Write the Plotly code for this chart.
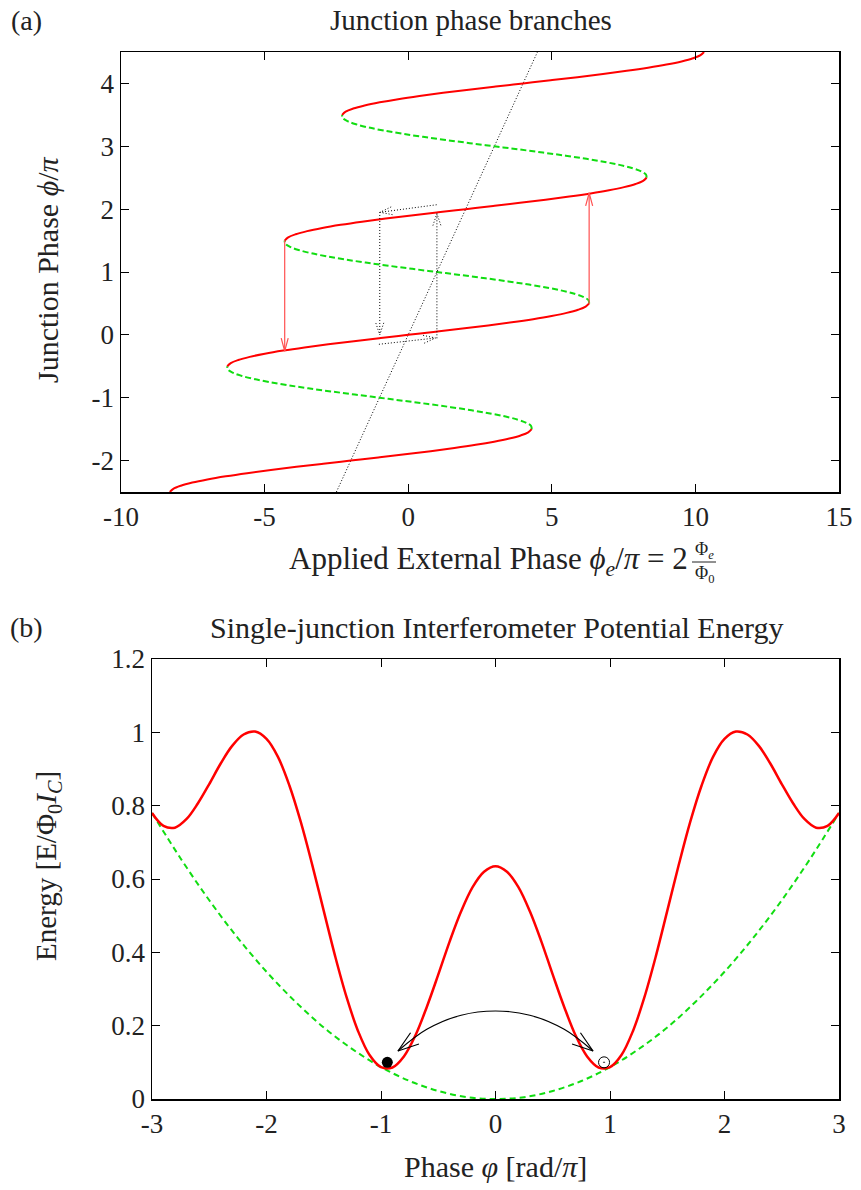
import math
import plotly.graph_objects as go

W, H = 861, 1190          # browser window = figure size (body margin removed below)
FONT = "Liberation Serif"

# ---------------- Panel (a): junction phase branches ----------------
# x = applied external phase (units of pi), y = junction phase (units of pi)
y_r1 = [-2.50, -2.45, -2.40, -2.35, -2.30, -2.25, -2.20, -2.15, -2.10, -2.05, -2.00,
        -1.95, -1.90, -1.85, -1.80, -1.75, -1.70, -1.65, -1.60, -1.55, -1.50]
x_r1 = [-8.300, -8.179, -7.916, -7.518, -6.992, -6.351, -5.609, -4.783, -3.892, -2.957, -2.000,
        -1.043, -0.108, 0.783, 1.609, 2.351, 2.992, 3.518, 3.916, 4.179, 4.300]
y_g1 = [-1.50, -1.45, -1.40, -1.35, -1.30, -1.25, -1.20, -1.15, -1.10, -1.05, -1.00,
        -0.95, -0.90, -0.85, -0.80, -0.75, -0.70, -0.65, -0.60, -0.55, -0.50]
x_g1 = [4.300, 4.279, 4.116, 3.818, 3.392, 2.851, 2.209, 1.483, 0.692, -0.143, -1.000,
        -1.857, -2.692, -3.483, -4.209, -4.851, -5.392, -5.818, -6.116, -6.279, -6.300]
y_r2 = [-0.50, -0.45, -0.40, -0.35, -0.30, -0.25, -0.20, -0.15, -0.10, -0.05, 0.00,
        0.05, 0.10, 0.15, 0.20, 0.25, 0.30, 0.35, 0.40, 0.45, 0.50]
x_r2 = [-6.300, -6.179, -5.916, -5.518, -4.992, -4.351, -3.609, -2.783, -1.892, -0.957, 0.000,
        0.957, 1.892, 2.783, 3.609, 4.351, 4.992, 5.518, 5.916, 6.179, 6.300]
y_g2 = [0.50, 0.55, 0.60, 0.65, 0.70, 0.75, 0.80, 0.85, 0.90, 0.95, 1.00,
        1.05, 1.10, 1.15, 1.20, 1.25, 1.30, 1.35, 1.40, 1.45, 1.50]
x_g2 = [6.300, 6.279, 6.116, 5.818, 5.392, 4.851, 4.209, 3.483, 2.692, 1.857, 1.000,
        0.143, -0.692, -1.483, -2.209, -2.851, -3.392, -3.818, -4.116, -4.279, -4.300]
y_r3 = [1.50, 1.55, 1.60, 1.65, 1.70, 1.75, 1.80, 1.85, 1.90, 1.95, 2.00,
        2.05, 2.10, 2.15, 2.20, 2.25, 2.30, 2.35, 2.40, 2.45, 2.50]
x_r3 = [-4.300, -4.179, -3.916, -3.518, -2.992, -2.351, -1.609, -0.783, 0.108, 1.043, 2.000,
        2.957, 3.892, 4.783, 5.609, 6.351, 6.992, 7.518, 7.916, 8.179, 8.300]
y_g3 = [2.50, 2.55, 2.60, 2.65, 2.70, 2.75, 2.80, 2.85, 2.90, 2.95, 3.00,
        3.05, 3.10, 3.15, 3.20, 3.25, 3.30, 3.35, 3.40, 3.45, 3.50]
x_g3 = [8.300, 8.279, 8.116, 7.818, 7.392, 6.851, 6.209, 5.483, 4.692, 3.857, 3.000,
        2.143, 1.308, 0.517, -0.209, -0.851, -1.392, -1.818, -2.116, -2.279, -2.300]
y_r4 = [3.50, 3.55, 3.60, 3.65, 3.70, 3.75, 3.80, 3.85, 3.90, 3.95, 4.00,
        4.05, 4.10, 4.15, 4.20, 4.25, 4.30, 4.35, 4.40, 4.45, 4.50]
x_r4 = [-2.300, -2.179, -1.916, -1.518, -0.992, -0.351, 0.391, 1.217, 2.108, 3.043, 4.000,
        4.957, 5.892, 6.783, 7.609, 8.351, 8.992, 9.518, 9.916, 10.179, 10.300]

# diagonal (beta = 0) reference line
diag_x = [-2.5, 4.5]
diag_y = [-2.5, 4.5]

# jump arrows (red) and small-beta hysteresis loop arrows (dotted)
jump_arrows = [(-4.3, 1.5, -4.3, -0.26), (6.3, 0.5, 6.3, 2.26)]
loop_arrows = [(0.99, 2.07, -0.98, 1.95), (-0.99, 1.955, -0.99, 0.0),
               (-1.02, -0.15, 0.95, -0.05), (1.0, -0.055, 1.0, 1.93)]

a_xticks = [-10, -5, 0, 5, 10, 15]
a_yticks = [-2, -1, 0, 1, 2, 3, 4]

# ---------------- Panel (b): potential energy ----------------
phase_b = [-3.0, -2.9, -2.8, -2.7, -2.6, -2.5, -2.4, -2.3, -2.2, -2.1, -2.0,
           -1.9, -1.8, -1.7, -1.6, -1.5, -1.4, -1.3, -1.2, -1.1, -1.0,
           -0.9, -0.8, -0.7, -0.6, -0.5, -0.4, -0.3, -0.2, -0.1, 0.0,
           0.1, 0.2, 0.3, 0.4, 0.5, 0.6, 0.7, 0.8, 0.9, 1.0,
           1.1, 1.2, 1.3, 1.4, 1.5, 1.6, 1.7, 1.8, 1.9, 2.0,
           2.1, 2.2, 2.3, 2.4, 2.5, 2.6, 2.7, 2.8, 2.9, 3.0]
energy_total = [0.780, 0.745, 0.740, 0.763, 0.806, 0.859, 0.915, 0.963, 0.994, 1.002, 0.982,
                0.933, 0.855, 0.755, 0.638, 0.513, 0.389, 0.277, 0.185, 0.120, 0.087,
                0.086, 0.116, 0.173, 0.251, 0.339, 0.430, 0.512, 0.578, 0.620, 0.635,
                0.620, 0.578, 0.512, 0.430, 0.339, 0.251, 0.173, 0.116, 0.086, 0.087,
                0.120, 0.185, 0.277, 0.389, 0.513, 0.638, 0.755, 0.855, 0.933, 0.982,
                1.002, 0.994, 0.963, 0.915, 0.859, 0.806, 0.763, 0.740, 0.745, 0.780]
phase_par = [-3.0, -2.75, -2.5, -2.25, -2.0, -1.75, -1.5, -1.25, -1.0, -0.75, -0.5, -0.25, 0.0,
             0.25, 0.5, 0.75, 1.0, 1.25, 1.5, 1.75, 2.0, 2.25, 2.5, 2.75, 3.0]
energy_par = [0.780, 0.656, 0.542, 0.439, 0.347, 0.266, 0.195, 0.136, 0.087, 0.049, 0.022, 0.005, 0.0,
              0.005, 0.022, 0.049, 0.087, 0.136, 0.195, 0.266, 0.347, 0.439, 0.542, 0.656, 0.780]

# tunnelling arc between the two wells
arc_x = [-0.852, -0.6, -0.3, 0.0, 0.3, 0.6, 0.852]
arc_y = [0.131, 0.190, 0.2285, 0.240, 0.2285, 0.190, 0.131]

state_filled = (-0.945, 0.100)
state_empty = (0.948, 0.100)

b_xticks = [-3, -2, -1, 0, 1, 2, 3]
b_yticks = [0, 0.2, 0.4, 0.6, 0.8, 1.0, 1.2]
b_yticktext = ["0", "0.2", "0.4", "0.6", "0.8", "1", "1.2"]

# ---------------- layout geometry (screen pixels) ----------------
A_L, A_R, A_T, A_B = 121, 839, 52, 492
B_L, B_R, B_T, B_B = 152, 839, 659, 1099
A_XR, A_YR = (-10, 15), (-2.5, 4.5)
B_XR, B_YR = (-3, 3), (0, 1.2)

RED = "#ff0000"
GREEN = "#11dd11"
TXT = "#222222"


def head(x0, y0, x1, y1, sx, sy, L, Wd):
    dx, dy = (x1 - x0) * sx, (y1 - y0) * sy
    n = math.hypot(dx, dy)
    ux, uy = dx / n, dy / n
    px, py = -uy, ux
    hx = [x1 + (-L * ux + Wd * px) / sx, x1, x1 + (-L * ux - Wd * px) / sx]
    hy = [y1 + (-L * uy + Wd * py) / sy, y1, y1 + (-L * uy - Wd * py) / sy]
    return hx, hy


fig = go.Figure()

asx = (A_R - A_L) / (A_XR[1] - A_XR[0])
asy = (A_B - A_T) / (A_YR[1] - A_YR[0])
bsx = (B_R - B_L) / (B_XR[1] - B_XR[0])
bsy = (B_B - B_T) / (B_YR[1] - B_YR[0])

# diagonal dotted line
fig.add_trace(go.Scatter(x=diag_x, y=diag_y, mode="lines",
                         line=dict(color="black", width=1, dash="1px,2px"),
                         xaxis="x", yaxis="y"))

for xs, ys in [(x_g1, y_g1), (x_g2, y_g2), (x_g3, y_g3)]:
    fig.add_trace(go.Scatter(x=xs, y=ys, mode="lines",
                             line=dict(color=GREEN, width=2, dash="6px,3px", shape="spline"),
                             xaxis="x", yaxis="y"))
for xs, ys in [(x_r1, y_r1), (x_r2, y_r2), (x_r3, y_r3), (x_r4, y_r4)]:
    fig.add_trace(go.Scatter(x=xs, y=ys, mode="lines",
                             line=dict(color=RED, width=2, shape="spline"),
                             xaxis="x", yaxis="y"))

for (x0, y0, x1, y1) in jump_arrows:
    hx, hy = head(x0, y0, x1, y1, asx, asy, 13, 3.5)
    fig.add_trace(go.Scatter(x=[x0, x1, None] + hx, y=[y0, y1, None] + hy, mode="lines",
                             line=dict(color="#ff5050", width=1.2),
                             xaxis="x", yaxis="y"))
for (x0, y0, x1, y1) in loop_arrows:
    hx, hy = head(x0, y0, x1, y1, asx, asy, 12, 4)
    fig.add_trace(go.Scatter(x=[x0, x1, None] + hx, y=[y0, y1, None] + hy, mode="lines",
                             line=dict(color="black", width=1, dash="1px,2px"),
                             xaxis="x", yaxis="y"))

# panel b
fig.add_trace(go.Scatter(x=phase_par, y=energy_par, mode="lines",
                         line=dict(color=GREEN, width=2, dash="6px,4px", shape="spline"),
                         xaxis="x2", yaxis="y2"))
fig.add_trace(go.Scatter(x=phase_b, y=energy_total, mode="lines",
                         line=dict(color=RED, width=2.5, shape="spline"),
                         xaxis="x2", yaxis="y2"))
fig.add_trace(go.Scatter(x=arc_x, y=arc_y, mode="lines",
                         line=dict(color="black", width=1.2, shape="spline"),
                         xaxis="x2", yaxis="y2"))
for i0, i1 in [(1, 0), (-2, -1)]:
    hx, hy = head(arc_x[i0], arc_y[i0], arc_x[i1], arc_y[i1], bsx, bsy, 21, 7)
    fig.add_trace(go.Scatter(x=hx, y=hy, mode="lines",
                             line=dict(color="black", width=1.2),
                             xaxis="x2", yaxis="y2"))
fig.add_trace(go.Scatter(x=[state_filled[0]], y=[state_filled[1]], mode="markers",
                         marker=dict(symbol="circle", size=11, color="black"),
                         xaxis="x2", yaxis="y2"))
fig.add_trace(go.Scatter(x=[state_empty[0]], y=[state_empty[1]], mode="markers",
                         marker=dict(symbol="circle-open-dot", size=11, color="black",
                                     line=dict(width=1)),
                         xaxis="x2", yaxis="y2"))


def ax(domain, rng, tickvals, ticktext, anchor):
    return dict(domain=domain, range=list(rng), tickvals=tickvals, ticktext=ticktext,
                anchor=anchor, showline=True, linecolor="black", linewidth=1.5,
                mirror="ticks", ticks="inside", ticklen=8, tickwidth=1, tickcolor="black",
                showgrid=False, zeroline=False, automargin=False,
                tickfont=dict(family=FONT, size=27, color=TXT))


def px_x(p):
    return p / W


def px_y(p):
    return 1 - p / H


layout = dict(
    width=W, height=H, margin=dict(l=0, r=0, t=0, b=0, autoexpand=False),
    paper_bgcolor="white", plot_bgcolor="white", showlegend=False,
    hovermode=False,
    xaxis=ax([px_x(A_L), px_x(A_R)], A_XR, a_xticks, [str(v) for v in a_xticks], "y"),
    yaxis=ax([px_y(A_B), px_y(A_T)], A_YR, a_yticks, [str(v) for v in a_yticks], "x"),
    xaxis2=ax([px_x(B_L), px_x(B_R)], B_XR, b_xticks, [str(v) for v in b_xticks], "y2"),
    yaxis2=ax([px_y(B_B), px_y(B_T)], B_YR, b_yticks, b_yticktext, "x2"),
)
fig.update_layout(**layout)


def label(text, x, y, angle=0, size=30, xanchor="center"):
    fig.add_annotation(text=text, x=px_x(x), y=px_y(y), xref="paper", yref="paper",
                       showarrow=False, xanchor=xanchor, yanchor="middle",
                       textangle=angle, font=dict(family=FONT, size=size, color=TXT))


label("(a)", 26, 20, size=28)
label("Junction phase branches", 471, 20, size=29)
label("Junction Phase <i>ϕ</i>/<i>π</i>", 48, 270, angle=-90)
label("Applied External Phase <i>ϕ</i><sub><i>e</i></sub>/<i>π</i> = 2", 690, 561, xanchor="right", size=31)
label("Φ<sub><i>e</i></sub>", 704, 550, size=18)
label("Φ<sub>0</sub>", 704, 574, size=18)
fig.add_shape(type="line", xref="paper", yref="paper",
              x0=px_x(692), x1=px_x(716), y0=px_y(562), y1=px_y(562),
              line=dict(color=TXT, width=1))

label("(b)", 26, 627, size=28)
label("Single-junction Interferometer Potential Energy", 496, 627, size=30)
label("Energy [E/Φ<sub>0</sub><i>I</i><sub><i>C</i></sub>]", 48, 866, angle=-90, size=29)
label("Phase <i>φ</i> [rad/<i>π</i>]", 495, 1166)

fig.write_html("out.html",
               config={"displayModeBar": False, "staticPlot": True},
               post_script="document.body.style.margin='0';document.body.style.overflow='hidden';")
